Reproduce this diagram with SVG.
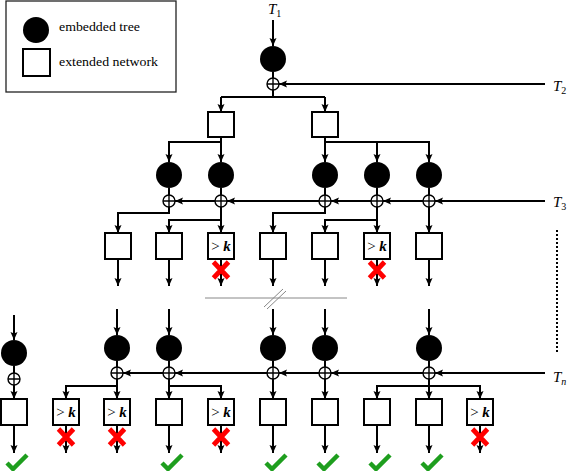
<svg xmlns="http://www.w3.org/2000/svg" width="568" height="471" viewBox="0 0 568 471">
<style>
.ln{stroke:#000;stroke-width:2;fill:none}
.ar{marker-end:url(#ah)}
.tree{fill:#000}
.box{fill:#fff;stroke:#000;stroke-width:2}
.op{fill:#fff;stroke:#000;stroke-width:1.4}
.xm{stroke:#f00;stroke-width:4.8;fill:none}
.ck{stroke:#1e9e1e;stroke-width:4.5;fill:none}
.lbl{font-family:"Liberation Serif","DejaVu Serif",serif;font-size:15px;font-style:italic;fill:#000}
.sub{font-size:10px}
.gt{font-family:"Liberation Serif","DejaVu Serif",serif;font-size:15px;fill:#000;text-anchor:middle}
.leg{font-family:"Liberation Serif","DejaVu Serif",serif;font-size:12.5px;fill:#000}
.sep{stroke:#888;stroke-width:1;fill:none}
</style>
<defs>
<marker id="ah" markerUnits="userSpaceOnUse" markerWidth="9" markerHeight="8" refX="8" refY="3.5" orient="auto">
<path d="M0,0 L8,3.5 L0,7 L1.5,3.5 z" fill="#000"/>
</marker>
<g id="opl"><circle r="6" class="op"/><path d="M-6,0H6M0,-6V6" stroke="#000" stroke-width="1.4"/></g>
<path id="xx" d="M-7.5,-8L7.5,8M-7.5,8L7.5,-8" class="xm"/>
<path id="ok" d="M-7,2 L-1,8 L13,-6" class="ck"/>
</defs>
<rect width="568" height="471" fill="#fff"/>

<g id="legend">
<rect x="6" y="1" width="170" height="91" fill="#fff" stroke="#222" stroke-width="1.3"/>
<circle cx="36" cy="30" r="13" class="tree"/>
<rect x="23" y="49" width="27" height="27" class="box"/>
<text x="59" y="31" class="leg" textLength="81" lengthAdjust="spacingAndGlyphs">embedded tree</text>
<text x="59" y="66" class="leg" textLength="99" lengthAdjust="spacingAndGlyphs">extended network</text>
</g>

<g id="labels">
<text x="268" y="14" class="lbl">T<tspan class="sub" font-style="normal" dy="3">1</tspan></text>
<text x="553" y="91" class="lbl">T<tspan class="sub" font-style="normal" dy="3">2</tspan></text>
<text x="553" y="207" class="lbl">T<tspan class="sub" font-style="normal" dy="3">3</tspan></text>
<text x="553" y="382" class="lbl">T<tspan class="sub" dy="3">n</tspan></text>
</g>

<g id="connectors">
<path class="ln ar" d="M273,20V46"/>
<path class="ln" d="M273,72V78"/>
<path class="ln ar" d="M545,84H279"/>
<path class="ln" d="M273,90V97M221,97H325"/>
<path class="ln ar" d="M221,97V112"/>
<path class="ln ar" d="M325,97V112"/>
<path class="ln ar" d="M221,137V162"/>
<path class="ln ar" d="M221,142H169V162"/>
<path class="ln ar" d="M325,137V162"/>
<path class="ln ar" d="M325,142H429V162"/>
<path class="ln ar" d="M377,142V162"/>
<path class="ln" d="M169,188V195M221,188V195M325,188V195M377,188V195M429,188V195"/>
<path class="ln ar" d="M545,201H435"/>
<path class="ln ar" d="M423,201H383"/>
<path class="ln ar" d="M371,201H331"/>
<path class="ln ar" d="M319,201H227"/>
<path class="ln ar" d="M215,201H175"/>
<path class="ln ar" d="M169,207V213H118V233"/>
<path class="ln ar" d="M221,207V233"/>
<path class="ln ar" d="M221,220H169V233"/>
<path class="ln ar" d="M325,207V213H273V233"/>
<path class="ln ar" d="M377,207V233"/>
<path class="ln ar" d="M377,220H325V233"/>
<path class="ln ar" d="M429,207V233"/>
<path class="ln ar" d="M118,259V286"/>
<path class="ln ar" d="M169,259V286"/>
<path class="ln ar" d="M221,259V286"/>
<path class="ln ar" d="M273,259V286"/>
<path class="ln ar" d="M325,259V286"/>
<path class="ln ar" d="M377,259V286"/>
<path class="ln ar" d="M429,259V286"/>
<path class="ln ar" d="M14,315V340"/>
<path class="ln" d="M14,366V373"/>
<path class="ln ar" d="M14,385V399"/>
<path class="ln ar" d="M117,309V335"/>
<path class="ln ar" d="M169,309V335"/>
<path class="ln ar" d="M273,309V335"/>
<path class="ln ar" d="M325,309V335"/>
<path class="ln ar" d="M429,309V335"/>
<path class="ln" d="M117,361V367M169,361V367M273,361V367M325,361V367M429,361V367"/>
<path class="ln ar" d="M545,373H435"/>
<path class="ln ar" d="M423,373H331"/>
<path class="ln ar" d="M319,373H279"/>
<path class="ln ar" d="M267,373H175"/>
<path class="ln ar" d="M163,373H123"/>
<path class="ln ar" d="M117,379V399"/>
<path class="ln ar" d="M117,386H66V399"/>
<path class="ln ar" d="M169,379V399"/>
<path class="ln ar" d="M169,386H221V399"/>
<path class="ln ar" d="M273,379V399"/>
<path class="ln ar" d="M325,379V399"/>
<path class="ln ar" d="M429,379V399"/>
<path class="ln ar" d="M429,386H377V399"/>
<path class="ln ar" d="M429,386H480V399"/>
<path class="ln ar" d="M14,425V453"/>
<path class="ln ar" d="M66,425V453"/>
<path class="ln ar" d="M117,425V453"/>
<path class="ln ar" d="M169,425V453"/>
<path class="ln ar" d="M221,425V453"/>
<path class="ln ar" d="M273,425V453"/>
<path class="ln ar" d="M325,425V453"/>
<path class="ln ar" d="M377,425V453"/>
<path class="ln ar" d="M429,425V453"/>
<path class="ln ar" d="M480,425V453"/>
</g>

<g id="separator">
<path class="sep" d="M205,298H347"/>
<path class="sep" d="M264,307L283,289M267,309L286,291"/>
<path d="M557,230V352" stroke="#000" stroke-width="2" stroke-dasharray="2,2"/>
</g>

<g id="tree-root"><circle cx="273" cy="59" r="13" class="tree"/></g>
<g id="op-root"><use href="#opl" x="273" y="84"/></g>
<g id="net-1a"><rect x="208" y="112" width="26" height="25" class="box"/></g>
<g id="net-1b"><rect x="312" y="112" width="26" height="25" class="box"/></g>
<g id="tree-2a"><circle cx="169" cy="175" r="13" class="tree"/><use href="#opl" x="169" y="201"/></g>
<g id="tree-2b"><circle cx="221" cy="175" r="13" class="tree"/><use href="#opl" x="221" y="201"/></g>
<g id="tree-2c"><circle cx="325" cy="175" r="13" class="tree"/><use href="#opl" x="325" y="201"/></g>
<g id="tree-2d"><circle cx="377" cy="175" r="13" class="tree"/><use href="#opl" x="377" y="201"/></g>
<g id="tree-2e"><circle cx="429" cy="175" r="13" class="tree"/><use href="#opl" x="429" y="201"/></g>
<g id="net-3a"><rect x="105" y="233" width="26" height="26" class="box"/></g>
<g id="net-3b"><rect x="156" y="233" width="26" height="26" class="box"/></g>
<g id="net-3c"><rect x="208" y="233" width="26" height="26" class="box"/><text x="221" y="251" class="gt">&gt; <tspan font-style="italic" font-weight="bold">k</tspan></text></g>
<g id="net-3d"><rect x="260" y="233" width="26" height="26" class="box"/></g>
<g id="net-3e"><rect x="312" y="233" width="26" height="26" class="box"/></g>
<g id="net-3f"><rect x="364" y="233" width="26" height="26" class="box"/><text x="377" y="251" class="gt">&gt; <tspan font-style="italic" font-weight="bold">k</tspan></text></g>
<g id="net-3g"><rect x="416" y="233" width="26" height="26" class="box"/></g>

<g id="tree-n0"><circle cx="14" cy="353" r="13" class="tree"/><use href="#opl" x="14" y="379"/></g>
<g id="tree-na"><circle cx="117" cy="348" r="13" class="tree"/><use href="#opl" x="117" y="373"/></g>
<g id="tree-nb"><circle cx="169" cy="348" r="13" class="tree"/><use href="#opl" x="169" y="373"/></g>
<g id="tree-nc"><circle cx="273" cy="348" r="13" class="tree"/><use href="#opl" x="273" y="373"/></g>
<g id="tree-nd"><circle cx="325" cy="348" r="13" class="tree"/><use href="#opl" x="325" y="373"/></g>
<g id="tree-ne"><circle cx="429" cy="348" r="13" class="tree"/><use href="#opl" x="429" y="373"/></g>

<g id="net-n0"><rect x="1" y="399" width="26" height="26" class="box"/></g>
<g id="net-n1"><rect x="53" y="399" width="26" height="26" class="box"/><text x="66" y="417" class="gt">&gt; <tspan font-style="italic" font-weight="bold">k</tspan></text></g>
<g id="net-n2"><rect x="104" y="399" width="26" height="26" class="box"/><text x="117" y="417" class="gt">&gt; <tspan font-style="italic" font-weight="bold">k</tspan></text></g>
<g id="net-n3"><rect x="156" y="399" width="26" height="26" class="box"/></g>
<g id="net-n4"><rect x="208" y="399" width="26" height="26" class="box"/><text x="221" y="417" class="gt">&gt; <tspan font-style="italic" font-weight="bold">k</tspan></text></g>
<g id="net-n5"><rect x="260" y="399" width="26" height="26" class="box"/></g>
<g id="net-n6"><rect x="312" y="399" width="26" height="26" class="box"/></g>
<g id="net-n7"><rect x="364" y="399" width="26" height="26" class="box"/></g>
<g id="net-n8"><rect x="416" y="399" width="26" height="26" class="box"/></g>
<g id="net-n9"><rect x="467" y="399" width="26" height="26" class="box"/><text x="480" y="417" class="gt">&gt; <tspan font-style="italic" font-weight="bold">k</tspan></text></g>

<g id="marks">
<use href="#xx" x="221" y="270"/>
<use href="#xx" x="377" y="270"/>
<use href="#xx" x="66" y="437"/>
<use href="#xx" x="117" y="437"/>
<use href="#xx" x="221" y="437"/>
<use href="#xx" x="480" y="437"/>
<use href="#ok" x="14" y="461"/>
<use href="#ok" x="169" y="461"/>
<use href="#ok" x="273" y="461"/>
<use href="#ok" x="325" y="461"/>
<use href="#ok" x="377" y="461"/>
<use href="#ok" x="429" y="461"/>
</g>
</svg>
